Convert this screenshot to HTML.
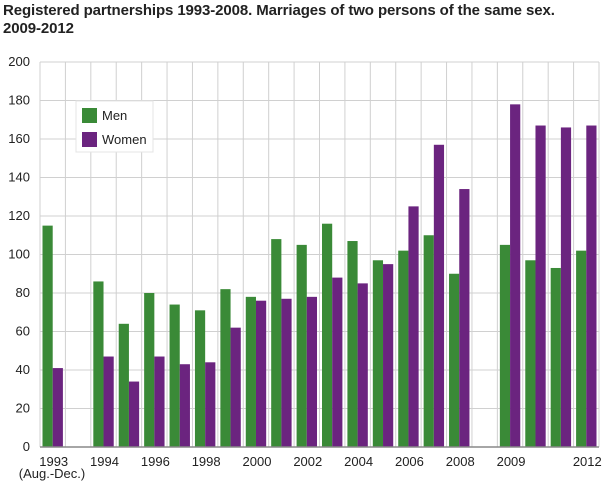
<!DOCTYPE html>
<html><head><meta charset="utf-8"><style>
body{margin:0;background:#fff;font-family:"Liberation Sans",sans-serif;}
#title{position:absolute;left:3px;top:2px;width:605px;font-size:15px;font-weight:bold;color:#222;line-height:18px;letter-spacing:-0.1px}
.nw{white-space:nowrap}
</style></head><body>
<div id="title">Registered partnerships 1993-2008. Marriages of two persons of the same sex. <span class="nw">2009-2012</span></div>
<svg id="chart" width="610" height="488" style="position:absolute;left:0;top:0"></svg>
<script>
const years=["1993","1994","1995","1996","1997","1998","1999","2000","2001","2002","2003","2004","2005","2006","2007","2008","2009","2010","2011","2012"];
const slotIndex=[0,2,3,4,5,6,7,8,9,10,11,12,13,14,15,16,18,19,20,21];
const men=[115,86,64,80,74,71,82,78,108,105,116,107,97,102,110,90,105,97,93,102];
const women=[41,47,34,47,43,44,62,76,77,78,88,85,95,125,157,134,178,167,166,167];
const yTicks=[0,20,40,60,80,100,120,140,160,180,200];
const xLabels=["1993","1994","1996","1998","2000","2002","2004","2006","2008","2009","2012"];
const NS="http://www.w3.org/2000/svg";
const svg=document.getElementById('chart');
const L=40,R=599,T=62,B=447,nSlots=22,sw=(R-L)/nSlots;
const y=v=>B-(v/200)*(B-T);
const x=s=>L+s*sw;
function mk(t,a){const e=document.createElementNS(NS,t);for(const k in a)e.setAttribute(k,a[k]);svg.appendChild(e);return e;}
yTicks.forEach(v=>{
 const g=mk('line',{x1:L,x2:R,y1:y(v),y2:y(v),stroke:'#d0d0d0','stroke-width':1});
 
 
 const t=mk('text',{x:30,y:y(v)+4,'text-anchor':'end','font-size':13,fill:'#222','font-family':'Liberation Sans, sans-serif'});
 t.textContent=v;
 
 
});
for(let s=0;s<=nSlots;s++){
 const g=mk('line',{x1:x(s),x2:x(s),y1:T,y2:B,stroke:'#d0d0d0','stroke-width':1});
 
 
}
years.forEach((yr,i)=>{
 const s=slotIndex[i],bw=(sw-5)/2;
 const m=mk('rect',{x:x(s)+2.5,y:y(men[i]),width:bw,height:B-y(men[i]),fill:'#3a8a37'});
 
 
 const w=mk('rect',{x:x(s)+2.5+bw,y:y(women[i]),width:bw,height:B-y(women[i]),fill:'#6b247f'});
 
 
});
const ax=mk('line',{x1:L,x2:R,y1:B,y2:B,stroke:'#888','stroke-width':1.5});


xLabels.forEach(lb=>{
 const s=slotIndex[years.indexOf(lb)];
 const t=mk('text',{x:x(s)+sw/2+1,y:466,'text-anchor':'middle','font-size':13,fill:'#222','font-family':'Liberation Sans, sans-serif'});
 t.textContent=lb;
 
 
});
const sub=mk('text',{x:52,y:478,'text-anchor':'middle','font-size':13,fill:'#222','font-family':'Liberation Sans, sans-serif'});
sub.textContent='(Aug.-Dec.)';


const lg=mk('rect',{x:76,y:101,width:77,height:51,fill:'#fff',stroke:'#e4e4e4'});


[['Men','#3a8a37',108],['Women','#6b247f',132]].forEach(([n,c,yy])=>{
 const r=mk('rect',{x:82,y:yy,width:15,height:15,fill:c});
 
 
 const t=mk('text',{x:102,y:yy+12,'font-size':13,fill:'#222','font-family':'Liberation Sans, sans-serif'});
 t.textContent=n;
 
 
});
</script>
</body></html>
